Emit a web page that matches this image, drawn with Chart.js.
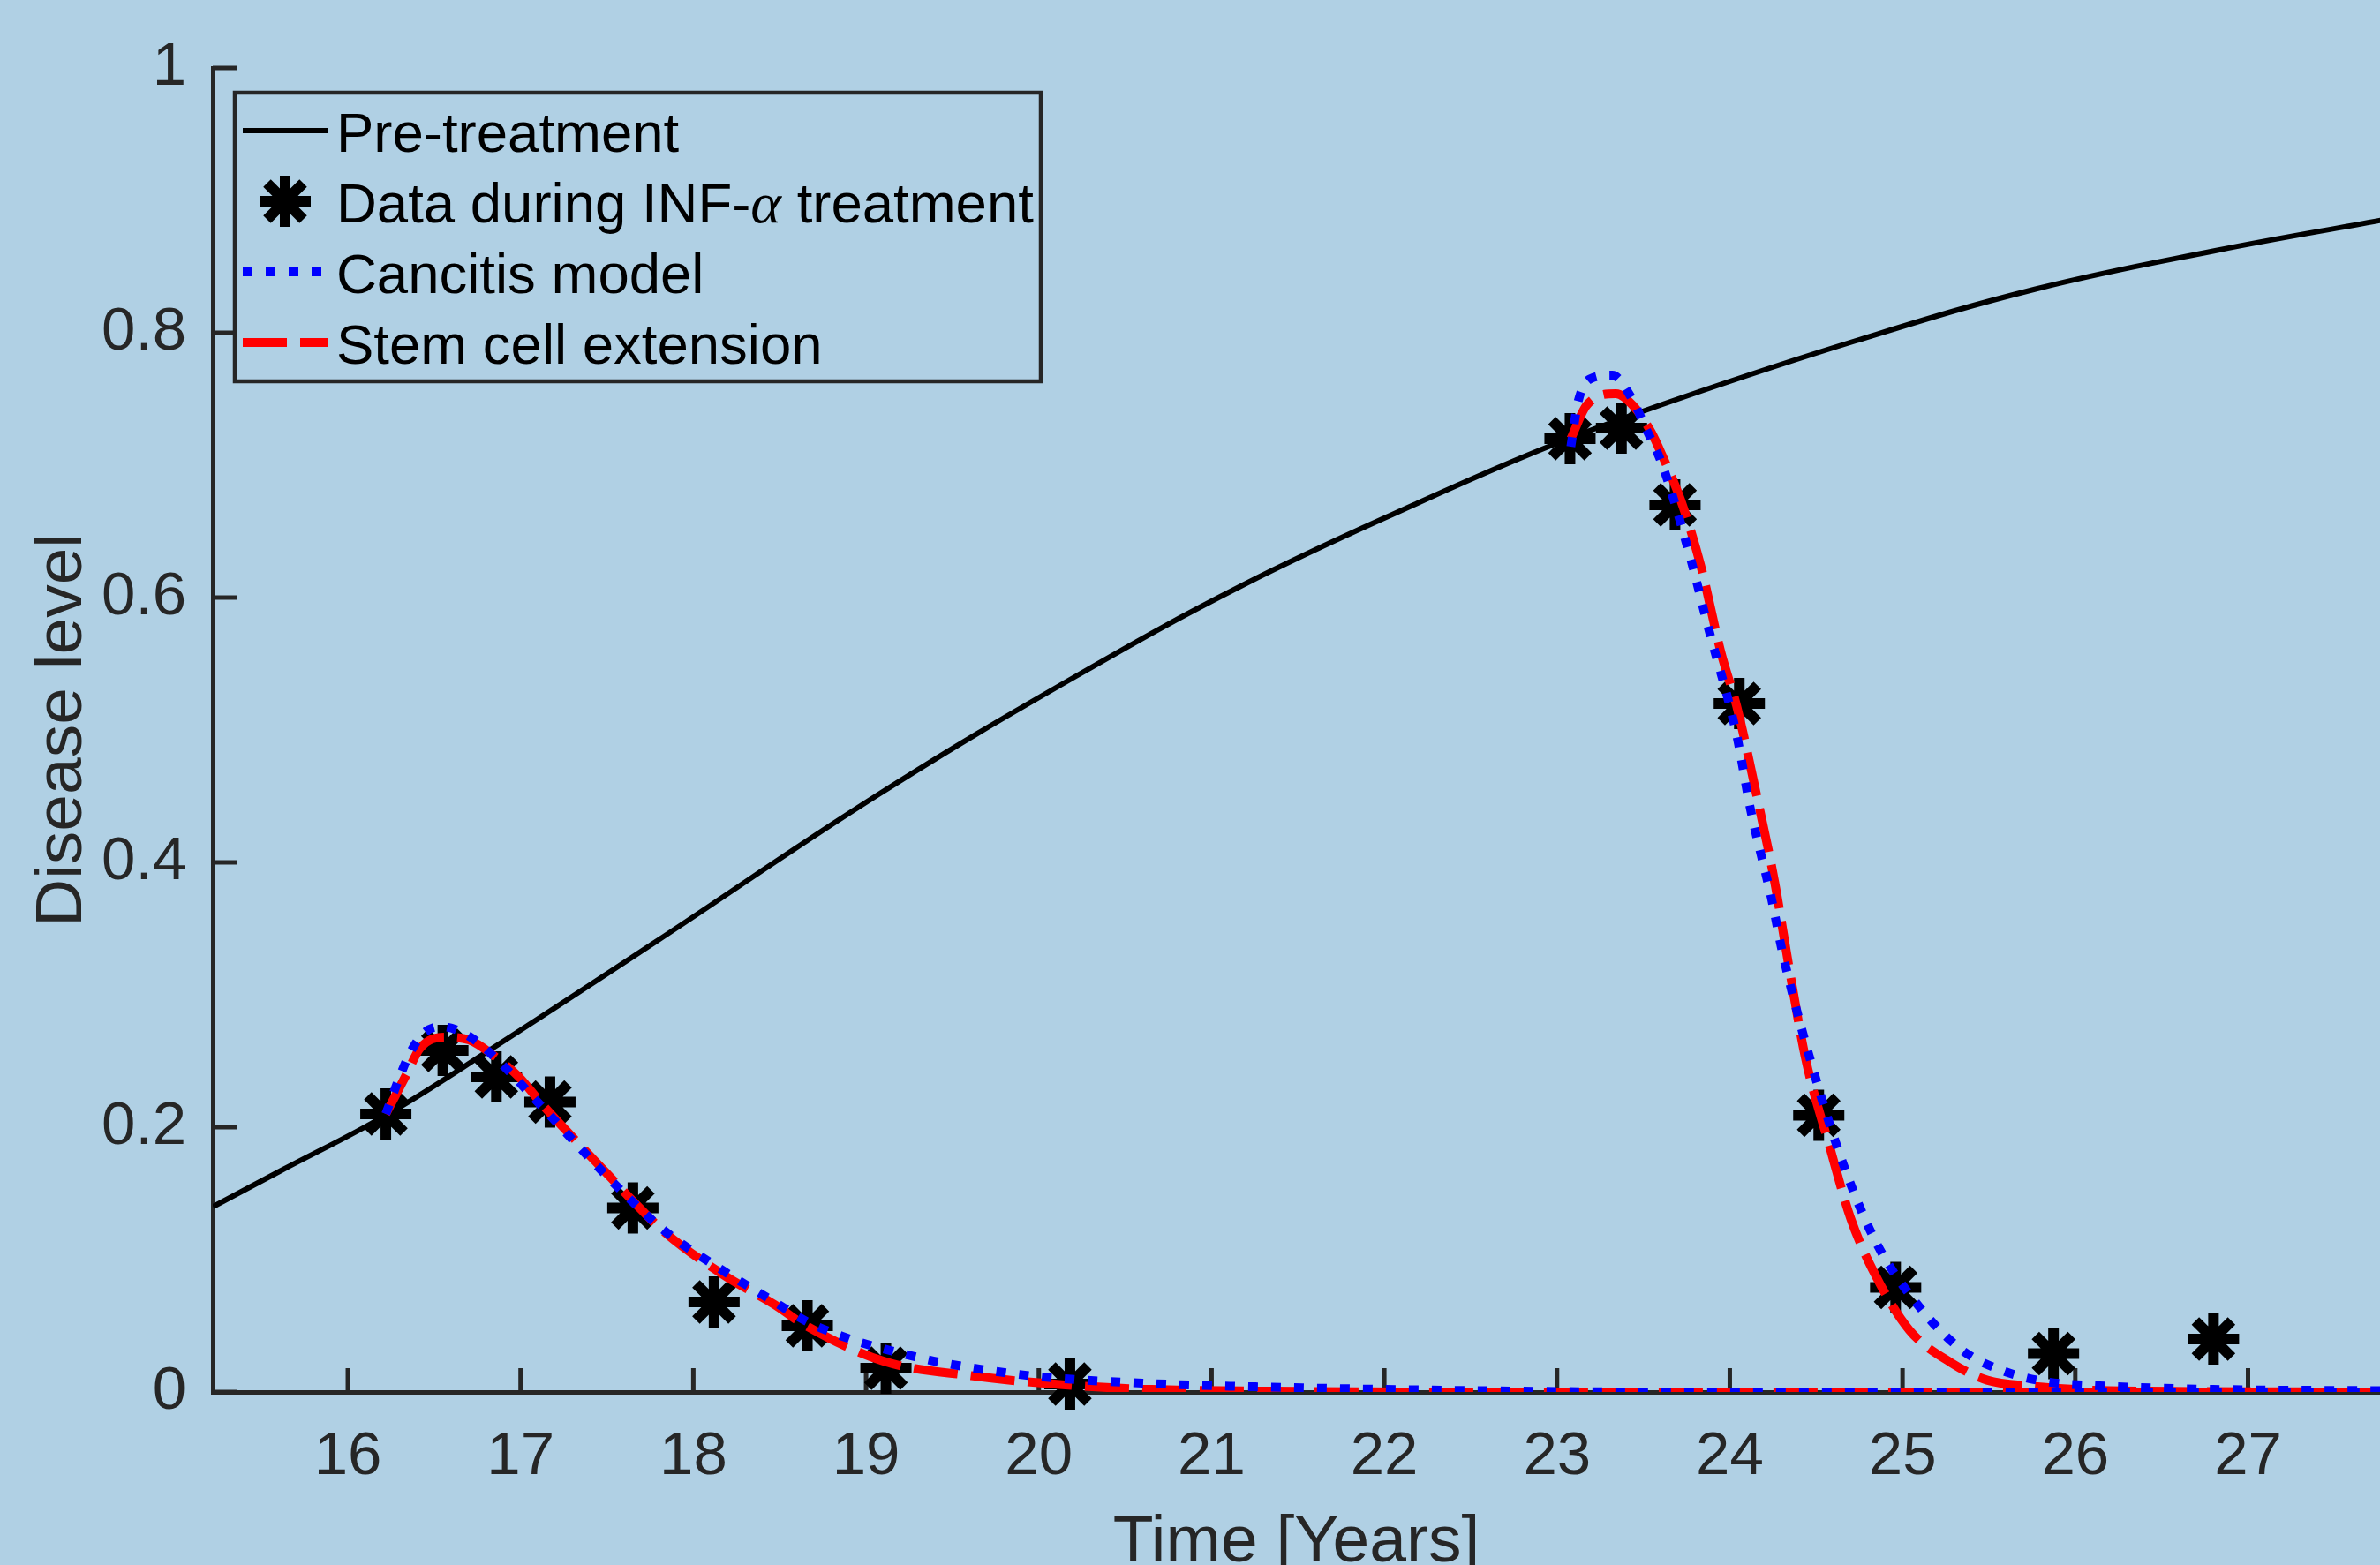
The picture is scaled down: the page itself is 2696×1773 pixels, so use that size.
<!DOCTYPE html>
<html>
<head>
<meta charset="utf-8">
<title>Disease level</title>
<script src="https://cdn.jsdelivr.net/npm/chart.js@4.4.1/dist/chart.umd.min.js"></script>
<style>
  html, body { margin: 0; padding: 0; background: #b0d0e4; overflow: hidden; }
  #wrap { width: 2696px; height: 1773px; }
</style>
</head>
<body>
<div id="wrap"><canvas id="diseaseChart"></canvas></div>
<script>
// Pre-treatment curve
const preX = [15.22, 15.61, 16.22, 16.83, 17.77, 19.08, 20.22, 21.19, 22.17, 22.95, 23.70, 24.73, 25.77, 26.81, 27.77];
const preY = [0.140, 0.167, 0.209, 0.259, 0.339, 0.452, 0.541, 0.610, 0.670, 0.714, 0.750, 0.794, 0.833, 0.862, 0.885];

// Data during INF-a treatment
const dataX = [16.22, 16.55, 16.86, 17.17, 17.65, 18.12, 18.66, 19.115, 20.18, 23.075, 23.373, 23.683, 24.055, 24.515, 24.96, 25.874, 26.80];
const dataY = [0.21, 0.258, 0.238, 0.219, 0.139, 0.068, 0.050, 0.018, 0.006, 0.720, 0.728, 0.670, 0.520, 0.209, 0.079, 0.029, 0.040];

// Cancitis model, first and second treatment period
const cancitisX1 = [16.22, 16.30, 16.36, 16.44, 16.54, 16.71, 16.88, 17.12, 17.34, 17.50, 17.63, 17.84, 18.18, 18.47, 18.66, 18.93, 19.18, 19.44, 19.95, 20.60, 21.58, 22.56, 23.5, 27.77];
const cancitisY1 = [0.21, 0.238, 0.256, 0.271, 0.276, 0.268, 0.249, 0.216, 0.185, 0.163, 0.146, 0.121, 0.091, 0.068, 0.053, 0.039, 0.030, 0.0222, 0.0123, 0.0067, 0.003, 0.001, 0, 0];
const cancitisX2 = [23.08, 23.12, 23.19, 23.32, 23.43, 23.51, 23.61, 23.77, 23.87, 24.04, 24.12, 24.24, 24.31, 24.515, 24.685, 24.855, 25.11, 25.35, 25.59, 25.83, 26.17, 26.8, 27.77];
const cancitisY2 = [0.714, 0.747, 0.765, 0.768, 0.751, 0.729, 0.700, 0.631, 0.580, 0.496, 0.440, 0.3735, 0.329, 0.229, 0.162, 0.111, 0.0623, 0.0311, 0.0156, 0.0078, 0.0045, 0.002, 0.001];

// Stem cell extension, first and second treatment period
const stemX1 = [16.22, 16.34, 16.42, 16.56, 16.70, 16.85, 16.99, 17.12, 17.34, 17.50, 17.63, 17.84, 18.18, 18.47, 18.64, 19.10, 19.61, 20.12, 20.60, 21.5, 22.5, 27.77];
const stemY1 = [0.21, 0.240, 0.260, 0.268, 0.266, 0.2535, 0.238, 0.218, 0.187, 0.165, 0.147, 0.120, 0.088, 0.066, 0.051, 0.0233, 0.0123, 0.0056, 0.0022, 0.0005, 0, 0];
const stemX2 = [23.08, 23.17, 23.34, 23.44, 23.545, 23.61, 23.715, 23.83, 23.95, 24.04, 24.155, 24.26, 24.34, 24.44, 24.58, 24.70, 24.84, 25.04, 25.28, 25.49, 25.74, 26.2, 27.77];
const stemY2 = [0.72, 0.745, 0.754, 0.745, 0.725, 0.707, 0.674, 0.625, 0.558, 0.518, 0.451, 0.385, 0.323, 0.251, 0.1845, 0.131, 0.089, 0.0467, 0.0222, 0.0089, 0.0045, 0.001, 0];

// tick positions
const xTickValues = [16, 17, 18, 19, 20, 21, 22, 23, 24, 25, 26, 27];
const yTickValues = [0, 0.2, 0.4, 0.6, 0.8, 1];
const yTickLabels = ['0', '0.2', '0.4', '0.6', '0.8', '1'];

const axisColor = '#262626';
const fontFamily = '"Liberation Sans", Arial, Helvetica, sans-serif';

function toPoints(xs, ys) {
  return xs.map((x, i) => ({ x: x, y: ys[i] }));
}
// two periods in one dataset, broken by a null point
function twoPeriods(x1, y1, x2, y2) {
  return toPoints(x1, y1).concat([{ x: x1[x1.length - 1], y: null }], toPoints(x2, y2));
}

// MATLAB style ticks pointing into the plot
const innerTicks = {
  id: 'innerTicks',
  beforeDatasetsDraw(chart) {
    const { ctx, chartArea, scales: { x, y } } = chart;
    ctx.save();
    ctx.strokeStyle = axisColor;
    ctx.lineWidth = 5;
    x.ticks.forEach(t => {
      const px = x.getPixelForValue(t.value);
      ctx.beginPath();
      ctx.moveTo(px, chartArea.bottom);
      ctx.lineTo(px, chartArea.bottom - 27);
      ctx.stroke();
    });
    y.ticks.forEach(t => {
      const py = y.getPixelForValue(t.value);
      ctx.beginPath();
      ctx.moveTo(chartArea.left, py);
      ctx.lineTo(chartArea.left + 27, py);
      ctx.stroke();
    });
    ctx.restore();
  }
};

// boxed legend in the upper left corner
const boxLegend = {
  id: 'boxLegend',
  afterDraw(chart) {
    const ctx = chart.ctx;
    const box = { left: 266, top: 105, width: 913, height: 327 };
    const rowY = [148, 228, 308, 388];
    const lineX0 = 275, lineX1 = 371, textX = 381;
    ctx.save();
    ctx.strokeStyle = axisColor;
    ctx.lineWidth = 4.5;
    ctx.strokeRect(box.left, box.top, box.width, box.height);

    chart.data.datasets.forEach((ds, i) => {
      const y = rowY[i];
      ctx.save();
      if (ds.showLine === false) {
        const cx = (lineX0 + lineX1) / 2, r = ds.pointRadius, d = r * Math.SQRT1_2;
        ctx.strokeStyle = ds.pointBorderColor;
        ctx.lineWidth = ds.pointBorderWidth;
        ctx.beginPath();
        ctx.moveTo(cx, y - r); ctx.lineTo(cx, y + r);
        ctx.moveTo(cx - r, y); ctx.lineTo(cx + r, y);
        ctx.moveTo(cx - d, y - d); ctx.lineTo(cx + d, y + d);
        ctx.moveTo(cx - d, y + d); ctx.lineTo(cx + d, y - d);
        ctx.stroke();
      } else {
        ctx.strokeStyle = ds.borderColor;
        ctx.lineWidth = ds.borderWidth;
        ctx.setLineDash(ds.borderDash || []);
        ctx.beginPath();
        ctx.moveTo(lineX0, y);
        ctx.lineTo(lineX1, y);
        ctx.stroke();
      }
      ctx.restore();

      // text, with the Greek letter set in italic serif
      ctx.fillStyle = '#000';
      ctx.textBaseline = 'alphabetic';
      let tx = textX;
      const parts = ds.label.split(/(α)/);
      parts.forEach(p => {
        if (!p) return;
        ctx.font = p === 'α' ? 'italic 66px "Liberation Serif", "DejaVu Serif", serif' : '63.5px ' + fontFamily;
        ctx.fillText(p, tx, y + 24);
        tx += ctx.measureText(p).width;
      });
    });
    ctx.restore();
  }
};

const ctx = document.getElementById('diseaseChart');
new Chart(ctx, {
  type: 'line',
  data: {
    datasets: [
      {
        label: 'Pre-treatment',
        data: toPoints(preX, preY),
        borderColor: '#000000',
        borderWidth: 6,
        pointRadius: 0,
        tension: 0.4,
        order: 4
      },
      {
        label: 'Data during INF-α treatment',
        data: toPoints(dataX, dataY),
        showLine: false,
        pointStyle: 'star',
        pointRadius: 29,
        pointBorderWidth: 12,
        pointBorderColor: '#000000',
        pointBackgroundColor: '#000000',
        clip: false,
        order: 3
      },
      {
        label: 'Cancitis model',
        data: twoPeriods(cancitisX1, cancitisY1, cancitisX2, cancitisY2),
        borderColor: '#0000ff',
        borderWidth: 10,
        borderDash: [11, 15],
        pointRadius: 0,
        spanGaps: false,
        cubicInterpolationMode: 'monotone',
        order: 1
      },
      {
        label: 'Stem cell extension',
        data: twoPeriods(stemX1, stemY1, stemX2, stemY2),
        borderColor: '#ff0000',
        borderWidth: 10,
        borderDash: [50, 15],
        pointRadius: 0,
        spanGaps: false,
        cubicInterpolationMode: 'monotone',
        order: 2
      }
    ]
  },
  options: {
    responsive: true,
    maintainAspectRatio: false,
    animation: false,
    devicePixelRatio: 1,
    layout: { autoPadding: false, padding: { top: 77, left: 0, right: 0, bottom: 0 } },
    plugins: {
      legend: { display: false },
      tooltip: { enabled: false }
    },
    scales: {
      x: {
        type: 'linear',
        bounds: 'data',
        min: 15.218,
        max: 27.764,
        grid: { display: false },
        border: { display: true, color: axisColor, width: 5 },
        afterBuildTicks(scale) { scale.ticks = xTickValues.map(v => ({ value: v })); },
        ticks: {
          autoSkip: false,
          maxRotation: 0,
          color: axisColor,
          padding: 25,
          font: { size: 69, family: fontFamily },
          callback: v => String(v)
        },
        title: {
          display: true,
          text: 'Time [Years]',
          color: axisColor,
          padding: 0,
          font: { size: 75, family: fontFamily, lineHeight: 0.66 }
        },
        afterFit(scale) {
          scale.height = 196;
          scale.paddingLeft = 0;
          scale.paddingRight = 0;
        }
      },
      y: {
        type: 'linear',
        bounds: 'data',
        min: 0,
        max: 1,
        grid: { display: false },
        border: { display: true, color: axisColor, width: 5 },
        afterBuildTicks(scale) { scale.ticks = yTickValues.map(v => ({ value: v })); },
        ticks: {
          color: axisColor,
          padding: 22,
          font: { size: 69, family: fontFamily },
          callback: (v, i) => yTickLabels[i]
        },
        title: {
          display: true,
          text: 'Disease level',
          color: axisColor,
          padding: { top: 38, bottom: 0 },
          font: { size: 75, family: fontFamily, lineHeight: 0.88 }
        },
        afterFit(scale) {
          scale.width = 241;
          scale.paddingTop = 0;
          scale.paddingBottom = 0;
        }
      }
    }
  },
  plugins: [innerTicks, boxLegend]
});
</script>
</body>
</html>
